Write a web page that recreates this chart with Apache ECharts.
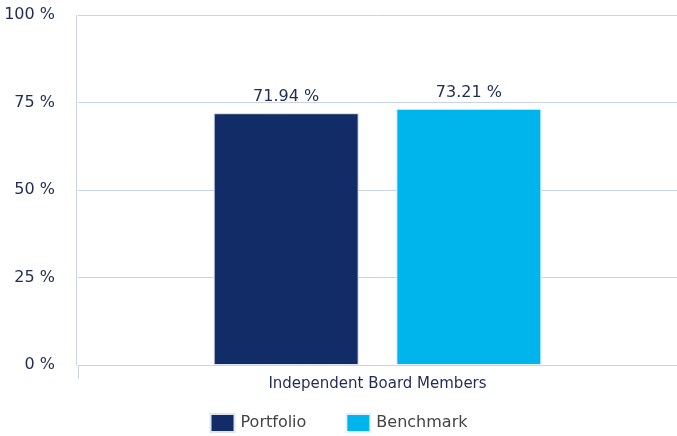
<!DOCTYPE html>
<html>
<head>
<meta charset="utf-8">
<script src="https://cdn.jsdelivr.net/npm/echarts@6/dist/echarts.min.js"></script>
<style>
  html, body { margin: 0; padding: 0; background: #fff; }
  #chart { width: 677px; height: 436px; }
</style>
</head>
<body>
<div id="chart"></div>
<script>
// chart data
const categories = ['Independent Board Members'];
const portfolio = [71.94];
const benchmark = [73.21];
const yTicks = [0, 25, 50, 75, 100];

const font = '"DejaVu Sans", Verdana, sans-serif';
const gridColor = '#c8d5e8';

let chartObj = echarts.init(document.getElementById('chart'));

let options = {
    animation: false,
    grid: { left: 78, right: 0, top: 15, bottom: 71, containLabel: false },
    legend: {
        bottom: -2,
        left: 'center',
        itemWidth: 24,
        itemHeight: 18,
        itemGap: 39,
        icon: 'rect',
        textStyle: { fontFamily: font, fontSize: 16, color: '#444', padding: [0, 0, 0, 1] },
        data: ['Portfolio', 'Benchmark']
    },
    xAxis: {
        type: 'category',
        data: categories,
        axisLine: { lineStyle: { color: gridColor, width: 1 } },
        axisTick: { show: true, length: 14, lineStyle: { color: gridColor } },
        axisLabel: { fontFamily: font, fontSize: 15, color: '#1f2d55', margin: 12 }
    },
    yAxis: {
        type: 'value',
        min: yTicks[0],
        max: yTicks[yTicks.length - 1],
        interval: 25,
        offset: 2,
        axisLine: { show: true, lineStyle: { color: gridColor } },
        axisTick: { show: false },
        splitLine: { lineStyle: { color: gridColor } },
        axisLabel: {
            fontFamily: font, fontSize: 16, color: '#1f2d55', margin: 21,
            formatter: v => v + ' %'
        }
    },
    series: [
        {
            name: 'Portfolio',
            type: 'bar',
            data: portfolio,
            barWidth: 145,
            barGap: '26%',
            itemStyle: { color: '#112c66', borderColor: '#dfe5ee', borderWidth: 1 },
            label: {
                show: true, position: 'top', distance: 8,
                fontFamily: font, fontSize: 16, color: '#1f2d55',
                formatter: p => p.value.toFixed(2) + ' %'
            }
        },
        {
            name: 'Benchmark',
            type: 'bar',
            data: benchmark,
            barWidth: 145,
            itemStyle: { color: '#00b4ec', borderColor: '#e3f3fb', borderWidth: 1 },
            label: {
                show: true, position: 'top', distance: 8,
                fontFamily: font, fontSize: 16, color: '#1f2d55',
                formatter: p => p.value.toFixed(2) + ' %'
            }
        }
    ]
};
chartObj.setOption(options);
</script>
</body>
</html>
